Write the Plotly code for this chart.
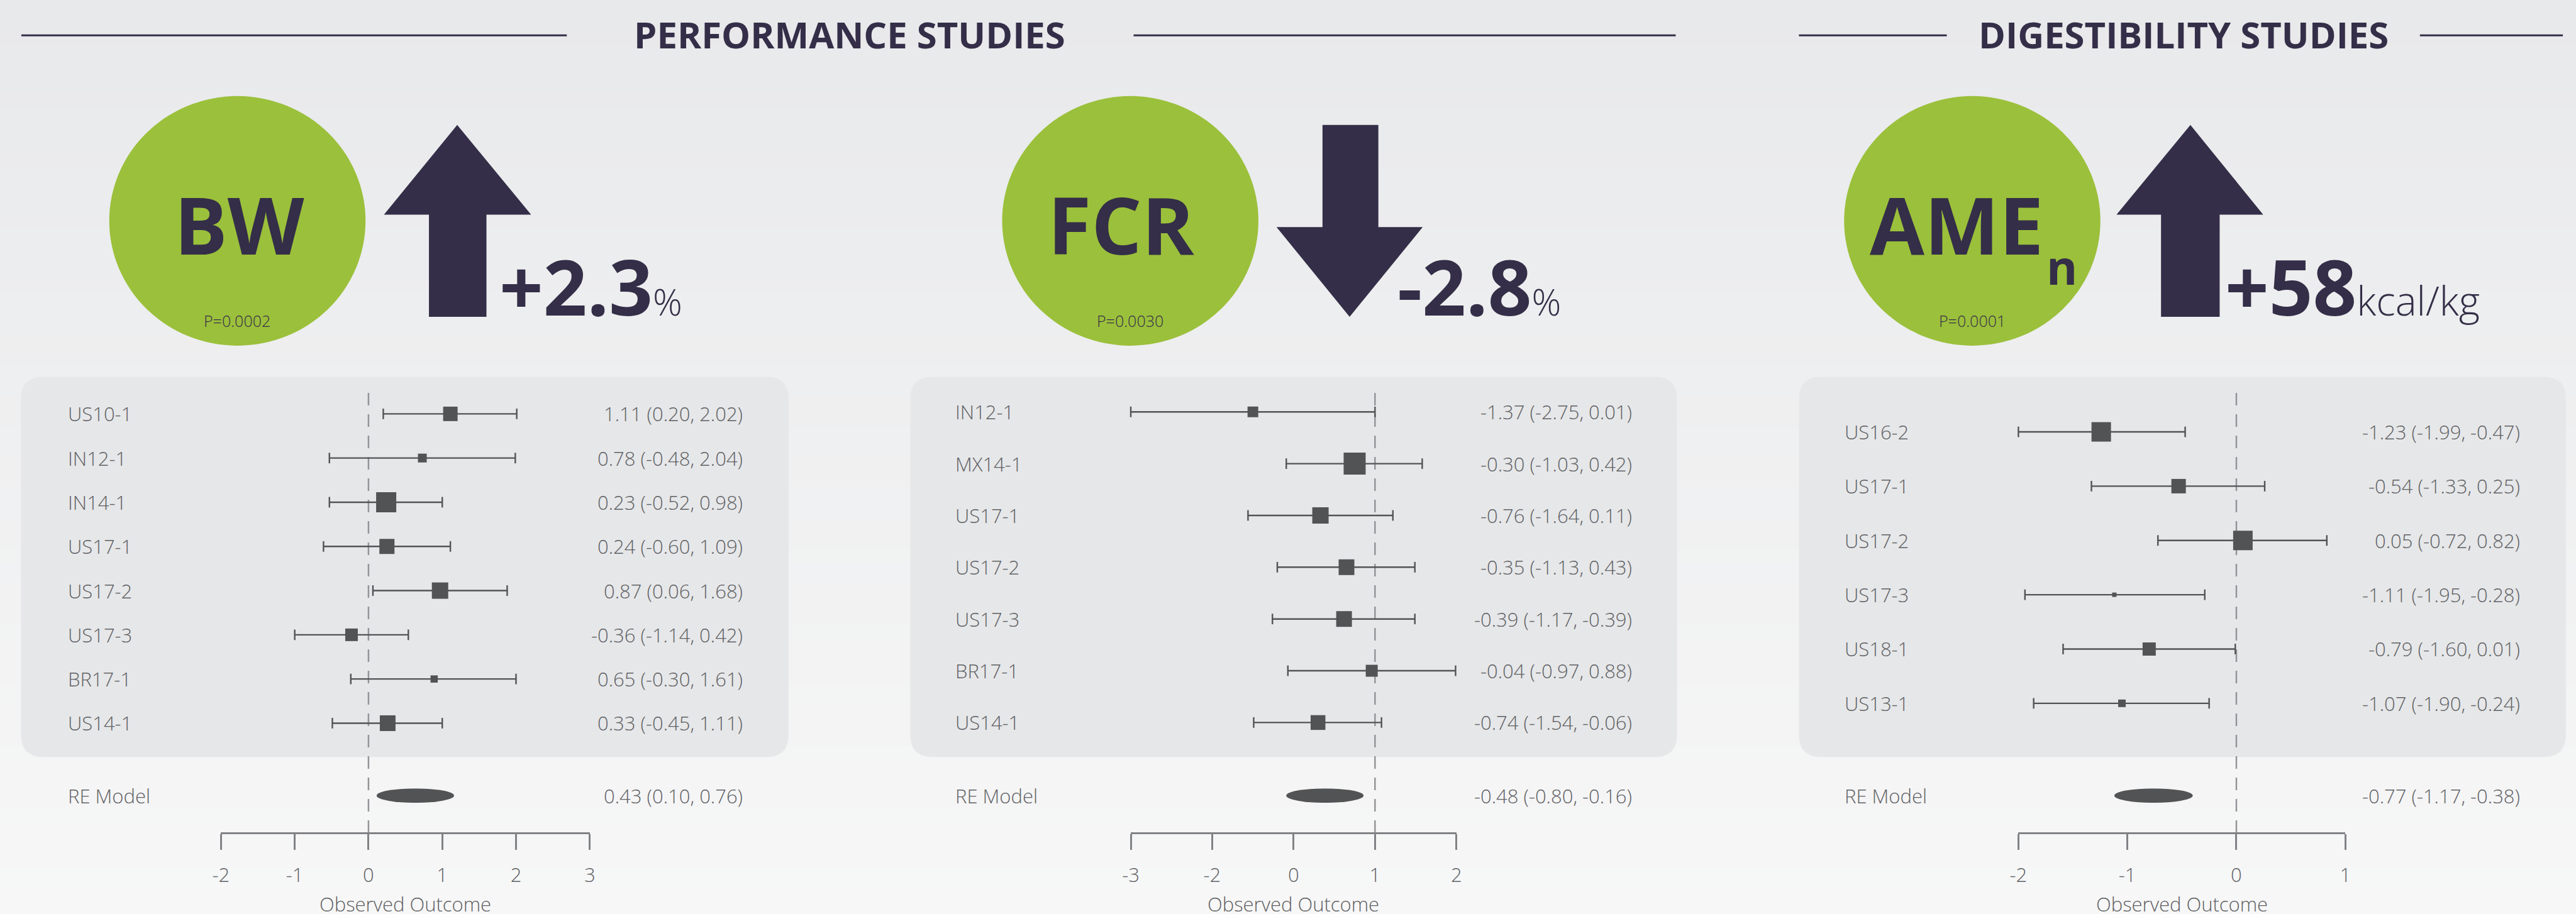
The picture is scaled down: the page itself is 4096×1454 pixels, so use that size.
import plotly.graph_objects as go

# ---------------- data ----------------
BW_STUDIES = ["US10-1", "IN12-1", "IN14-1", "US17-1", "US17-2", "US17-3", "BR17-1", "US14-1"]
BW_EST = [1.11, 0.73, 0.24, 0.25, 0.97, -0.23, 0.89, 0.26]
BW_LO = [0.20, -0.53, -0.53, -0.61, 0.06, -1.00, -0.24, -0.49]
BW_HI = [2.01, 1.99, 1.00, 1.11, 1.88, 0.54, 2.00, 1.00]
BW_WEIGHT = [23, 14, 32, 24, 26, 20, 11.5, 25]
BW_LABELS = ["1.11 (0.20, 2.02)", "0.78 (-0.48, 2.04)", "0.23 (-0.52, 0.98)", "0.24 (-0.60, 1.09)",
             "0.87 (0.06, 1.68)", "-0.36 (-1.14, 0.42)", "0.65 (-0.30, 1.61)", "0.33 (-0.45, 1.11)"]
BW_RE = [0.64, 0.11, 1.16]
BW_RE_LABEL = "0.43 (0.10, 0.76)"
BW_TICKS = [-2, -1, 0, 1, 2, 3]
BW_TICKTEXT = ["-2", "-1", "0", "1", "2", "3"]

FCR_STUDIES = ["IN12-1", "MX14-1", "US17-1", "US17-2", "US17-3", "BR17-1", "US14-1"]
FCR_EST = [-1.50, -0.25, -0.67, -0.35, -0.38, -0.04, -0.70]
FCR_LO = [-3.00, -1.09, -1.56, -1.20, -1.26, -1.07, -1.49]
FCR_HI = [0.00, 0.58, 0.22, 0.49, 0.49, 0.99, 0.08]
FCR_WEIGHT = [17, 35, 26, 25, 25, 19, 23.5]
FCR_LABELS = ["-1.37 (-2.75, 0.01)", "-0.30 (-1.03, 0.42)", "-0.76 (-1.64, 0.11)", "-0.35 (-1.13, 0.43)",
              "-0.39 (-1.17, -0.39)", "-0.04 (-0.97, 0.88)", "-0.74 (-1.54, -0.06)"]
FCR_RE = [-0.62, -1.09, -0.14]
FCR_RE_LABEL = "-0.48 (-0.80, -0.16)"
FCR_TICKS = [-3, -2, -1, 0, 1]
FCR_TICKTEXT = ["-3", "-2", "0", "1", "2"]

AME_STUDIES = ["US16-2", "US17-1", "US17-2", "US17-3", "US18-1", "US13-1"]
AME_EST = [-1.24, -0.53, 0.06, -1.12, -0.80, -1.05]
AME_LO = [-2.00, -1.33, -0.72, -1.94, -1.59, -1.86]
AME_HI = [-0.47, 0.26, 0.83, -0.29, -0.01, -0.25]
AME_WEIGHT = [31, 23, 31, 7, 21, 12]
AME_LABELS = ["-1.23 (-1.99, -0.47)", "-0.54 (-1.33, 0.25)", "0.05 (-0.72, 0.82)",
              "-1.11 (-1.95, -0.28)", "-0.79 (-1.60, 0.01)", "-1.07 (-1.90, -0.24)"]
AME_RE = [-0.76, -1.12, -0.40]
AME_RE_LABEL = "-0.77 (-1.17, -0.38)"
AME_TICKS = [-2, -1, 0, 1]
AME_TICKTEXT = ["-2", "-1", "0", "1"]

HEADERS = ["PERFORMANCE STUDIES", "DIGESTIBILITY STUDIES"]
BADGES = ["BW", "FCR", "AME"]
PVALUES = ["P=0.0002", "P=0.0030", "P=0.0001"]
CHANGES = ["+2.3", "-2.8", "+58"]
UNITS = ["%", "%", "kcal/kg"]

# ---------------- layout helpers ----------------
W, H = 4096, 1454
PW, PH = 1568.0, 556.6          # layout units (reference preview scale)

def px(x):
    return x / PW

def py(y):
    return 1 - y / PH

NAVY = "#342e48"
GREEN = "#9bc03b"
MARK = "#525355"
TEXT = "#606163"
AXIS = "#808285"
DASH = "#939598"
PANEL = "#e6e7e9"
FONT = "Open Sans"

shapes = []
annotations = []

# background gradient (top -> bottom)
top_rgb = (232, 233, 235)
bot_rgb = (247, 247, 247)
NB = 60
for i in range(NB):
    t = i / (NB - 1)
    c = tuple(round(top_rgb[k] + (bot_rgb[k] - top_rgb[k]) * t) for k in range(3))
    shapes.append(dict(type="rect", xref="paper", yref="paper", x0=0, x1=1,
                       y0=0, y1=1 - i / NB, fillcolor="rgb(%d,%d,%d)" % c,
                       line=dict(width=0), layer="below"))

def pt(x, y):
    return "%.6f,%.6f" % (px(x), py(y))

def rounded_rect(x0, y0, x1, y1, r):
    return ("M " + pt(x0 + r, y0) + " L " + pt(x1 - r, y0) + " Q " + pt(x1, y0) + " " + pt(x1, y0 + r) +
            " L " + pt(x1, y1 - r) + " Q " + pt(x1, y1) + " " + pt(x1 - r, y1) +
            " L " + pt(x0 + r, y1) + " Q " + pt(x0, y1) + " " + pt(x0, y1 - r) +
            " L " + pt(x0, y0 + r) + " Q " + pt(x0, y0) + " " + pt(x0 + r, y0) + " Z")

# header lines and titles
for (x0, x1) in [(13, 345), (690, 1020), (1095, 1185), (1473, 1560)]:
    shapes.append(dict(type="line", xref="paper", yref="paper", x0=px(x0), x1=px(x1),
                       y0=py(21.5), y1=py(21.5), line=dict(color=NAVY, width=3), layer="below"))
for txt, cx in zip(HEADERS, [517, 1329]):
    annotations.append(dict(text=txt, xref="paper", yref="paper", x=px(cx), y=py(21),
                            xanchor="center", yanchor="middle", showarrow=False,
                            font=dict(family=FONT, size=58, color=NAVY, weight=700)))

# badges (circles)
CIRCLES = [(144.5, 134.5), (688.0, 134.5), (1200.5, 134.5)]
for (cx, cy) in CIRCLES:
    shapes.append(dict(type="circle", xref="paper", yref="paper",
                       x0=px(cx - 78), x1=px(cx + 78), y0=py(cy + 76), y1=py(cy - 76),
                       fillcolor=GREEN, line=dict(width=0), layer="below"))

badge_x = [145.5, 682.5, 1191.0]
for txt, bx in zip(BADGES, badge_x):
    annotations.append(dict(text=txt, xref="paper", yref="paper", x=px(bx), y=py(136.3),
                            xanchor="center", yanchor="middle", showarrow=False,
                            font=dict(family=FONT, size=126, color=NAVY, weight=700)))
annotations.append(dict(text="n", xref="paper", yref="paper", x=px(1245), y=py(162.4),
                        xanchor="left", yanchor="middle", showarrow=False,
                        font=dict(family=FONT, size=75, color=NAVY, weight=700)))
for txt, (cx, cy) in zip(PVALUES, CIRCLES):
    annotations.append(dict(text=txt, xref="paper", yref="paper", x=px(cx), y=py(195.3),
                            xanchor="center", yanchor="middle", showarrow=False,
                            font=dict(family=FONT, size=25, color=NAVY, weight=300)))

# arrows
def up_arrow(tx, ty, hx0, hx1, hb, sx0, sx1, bot):
    return ("M " + pt(tx, ty) + " L " + pt(hx1, hb) + " L " + pt(sx1, hb) + " L " + pt(sx1, bot) +
            " L " + pt(sx0, bot) + " L " + pt(sx0, hb) + " L " + pt(hx0, hb) + " Z")

def down_arrow(tx, top, hx0, hx1, hb, sx0, sx1, bot):
    return ("M " + pt(sx0, top) + " L " + pt(sx1, top) + " L " + pt(sx1, hb) + " L " + pt(hx1, hb) +
            " L " + pt(tx, bot) + " L " + pt(hx0, hb) + " L " + pt(sx0, hb) + " Z")

for path in [up_arrow(278.3, 76.1, 233.7, 323.3, 130.7, 261.1, 296.1, 192.9),
             down_arrow(821.5, 76.1, 777.0, 866.0, 138.3, 805.0, 839.0, 192.9),
             up_arrow(1333.3, 76.1, 1288.3, 1377.6, 130.7, 1315.4, 1351.1, 192.9)]:
    shapes.append(dict(type="path", path=path, xref="paper", yref="paper",
                       fillcolor=NAVY, line=dict(width=0), layer="below"))

unit_sizes = [58, 58, 64]
for txt, unit, lx, us in zip(CHANGES, UNITS, [303.0, 850.0, 1353.5], unit_sizes):
    annotations.append(dict(
        text="<b>%s</b><span style='font-size:%dpx;font-weight:300'>%s</span>" % (txt, us, unit),
        xref="paper", yref="paper", x=px(lx), y=py(174.3), xanchor="left", yanchor="middle",
        showarrow=False, font=dict(family=FONT, size=122, color=NAVY)))

# ---------------- forest panels ----------------
PANELS = [
    dict(st=BW_STUDIES, est=BW_EST, lo=BW_LO, hi=BW_HI, w=BW_WEIGHT, lab=BW_LABELS,
         re=BW_RE, relab=BW_RE_LABEL, ticks=BW_TICKS, ticktext=BW_TICKTEXT,
         ax0=134.5, ax1=359.0, yb=440.4, s=26.91, lx=40.6, vx=453.0, rect=(12.8, 229.5, 480.0, 461.0)),
    dict(st=FCR_STUDIES, est=FCR_EST, lo=FCR_LO, hi=FCR_HI, w=FCR_WEIGHT, lab=FCR_LABELS,
         re=FCR_RE, relab=FCR_RE_LABEL, ticks=FCR_TICKS, ticktext=FCR_TICKTEXT,
         ax0=688.3, ax1=886.5, yb=440.0, s=31.53, lx=580.9, vx=994.0, rect=(554.1, 229.5, 1020.8, 461.0)),
    dict(st=AME_STUDIES, est=AME_EST, lo=AME_LO, hi=AME_HI, w=AME_WEIGHT, lab=AME_LABELS,
         re=AME_RE, relab=AME_RE_LABEL, ticks=AME_TICKS, ticktext=AME_TICKTEXT,
         ax0=1228.6, ax1=1427.6, yb=428.3, s=33.06, lx=1121.9, vx=1534.6, rect=(1095.0, 229.5, 1561.8, 461.0)),
]

AXIS_Y = 507.2
RE_Y = 484.5
RE_HALF = 4.35

fig = go.Figure()
layout_axes = {}

for i, p in enumerate(PANELS):
    n = i + 1
    xa = "x" if n == 1 else "x%d" % n
    ya = "y" if n == 1 else "y%d" % n
    k = len(p["st"])
    rows = [k - j for j in range(k)]

    # panel background
    x0, y0, x1, y1 = p["rect"]
    shapes.append(dict(type="path", path=rounded_rect(x0, y0, x1, y1, 13.5), xref="paper", yref="paper",
                       fillcolor=PANEL, line=dict(width=0), layer="below"))

    # reference (null) line
    shapes.append(dict(type="line", xref=xa, yref="paper", x0=0, x1=0, y0=py(AXIS_Y), y1=py(237.0),
                       line=dict(color=DASH, width=2.5, dash="20px,14px"), layer="below"))

    # CI lines
    lx_, ly_ = [], []
    for r, lo, hi in zip(rows, p["lo"], p["hi"]):
        lx_ += [lo, hi, None]
        ly_ += [r, r, None]
    fig.add_trace(go.Scatter(x=lx_, y=ly_, mode="lines", line=dict(color=MARK, width=2.4),
                             xaxis=xa, yaxis=ya, hoverinfo="skip", showlegend=False, cliponaxis=False))
    # end caps
    fig.add_trace(go.Scatter(x=p["lo"] + p["hi"], y=rows + rows, mode="markers",
                             marker=dict(symbol="line-ns", size=12, line=dict(color=MARK, width=2.4)),
                             xaxis=xa, yaxis=ya, hoverinfo="skip", showlegend=False, cliponaxis=False))
    # point estimates
    fig.add_trace(go.Scatter(x=p["est"], y=rows, mode="markers",
                             marker=dict(symbol="square", size=p["w"], color=MARK, opacity=1,
                                         line=dict(width=0)),
                             xaxis=xa, yaxis=ya, hoverinfo="skip", showlegend=False, cliponaxis=False))
    # RE anchor trace (invisible) on the RE row axis
    fig.add_trace(go.Scatter(x=[p["re"][0]], y=[0], mode="markers", marker=dict(size=1, opacity=0),
                             xaxis=xa, yaxis="y4", hoverinfo="skip", showlegend=False))
    # RE ellipse
    shapes.append(dict(type="circle", xref=xa, yref="y4", x0=p["re"][1], x1=p["re"][2], y0=-1, y1=1,
                       fillcolor=MARK, line=dict(width=0), layer="above"))

    # labels
    for r, s_, v in zip(rows, p["st"], p["lab"]):
        annotations.append(dict(text=s_, xref="paper", yref=ya, x=px(p["lx"]), y=r, xanchor="left",
                                yanchor="middle", showarrow=False,
                                font=dict(family=FONT, size=31, color=TEXT, weight=300)))
        annotations.append(dict(text=v, xref="paper", yref=ya, x=px(p["vx"]), y=r, xanchor="right",
                                yanchor="middle", showarrow=False,
                                font=dict(family=FONT, size=31, color=TEXT, weight=300)))
    annotations.append(dict(text="RE Model", xref="paper", yref="y4", x=px(p["lx"]), y=0, xanchor="left",
                            yanchor="middle", showarrow=False,
                            font=dict(family=FONT, size=31, color=TEXT, weight=300)))
    annotations.append(dict(text=p["relab"], xref="paper", yref="y4", x=px(p["vx"]), y=0, xanchor="right",
                            yanchor="middle", showarrow=False,
                            font=dict(family=FONT, size=31, color=TEXT, weight=300)))
    annotations.append(dict(text="Observed Outcome", xref="paper", yref="paper",
                            x=px((p["ax0"] + p["ax1"]) / 2), y=py(550.6), xanchor="center",
                            yanchor="middle", showarrow=False,
                            font=dict(family=FONT, size=31, color=TEXT, weight=300)))

    yb, s = p["yb"], p["s"]
    layout_axes["xaxis" if n == 1 else "xaxis%d" % n] = dict(
        domain=[px(p["ax0"]), px(p["ax1"])], range=[p["ticks"][0], p["ticks"][-1]],
        anchor="free", position=py(AXIS_Y), side="bottom", automargin=False,
        showline=True, linecolor=AXIS, linewidth=3, ticks="outside", ticklen=25, tickwidth=2.5,
        tickcolor=AXIS, tickvals=p["ticks"], ticktext=p["ticktext"], showgrid=False, zeroline=False,
        tickfont=dict(family=FONT, size=31, color=TEXT, weight=300), ticklabelstandoff=14,
        fixedrange=True)
    layout_axes["yaxis" if n == 1 else "yaxis%d" % n] = dict(
        domain=[0, 1], range=[1 + (yb - PH) / s, 1 + yb / s], anchor="free", position=0,
        automargin=False, visible=False, fixedrange=True)

layout_axes["yaxis4"] = dict(domain=[py(RE_Y + RE_HALF), py(RE_Y - RE_HALF)], range=[-1, 1],
                             anchor="free", position=0, automargin=False, visible=False, fixedrange=True)

fig.update_layout(width=W, height=H, autosize=False,
                  margin=dict(l=0, r=0, t=0, b=0, pad=0, autoexpand=False),
                  paper_bgcolor="#f0f0f1", plot_bgcolor="rgba(0,0,0,0)",
                  shapes=shapes, annotations=annotations, showlegend=False, **layout_axes)

fig.write_html("out.html", config={"displayModeBar": False},
               post_script="document.documentElement.style.overflow='hidden';"
                           "document.body.style.margin='0';document.body.style.overflow='hidden';")
